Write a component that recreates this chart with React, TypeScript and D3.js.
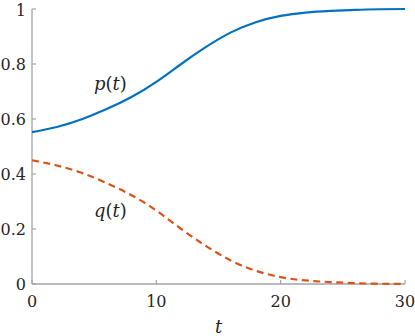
import React from 'react';
import * as d3 from 'd3';

// values (t every 2 units)
const tValues = [0, 2, 4, 6, 8, 10, 12, 14, 16, 18, 20, 22, 24, 26, 28, 30];
const pValues = [0.552, 0.571, 0.599, 0.636, 0.68, 0.735, 0.8, 0.862, 0.915, 0.952, 0.975, 0.987, 0.993, 0.997, 0.999, 1.0];
const qValues = [0.45, 0.431, 0.404, 0.367, 0.323, 0.267, 0.2, 0.138, 0.085, 0.048, 0.025, 0.013, 0.007, 0.003, 0.001, 0.0];
const xTicks = [0, 10, 20, 30];
const yTicks = [0, 0.2, 0.4, 0.6, 0.8, 1];

const W = 415;
const H = 336;
const margin = { left: 32, right: 10, top: 9, bottom: 52 };
const FONT = '"DejaVu Serif", "Liberation Serif", "Noto Serif", serif';
const AXIS = '#a3a3a3';
const TEXT = '#262626';

const App = () => {
  const x = d3.scaleLinear().domain([0, 30]).range([margin.left, W - margin.right]);
  const y = d3.scaleLinear().domain([0, 1]).range([H - margin.bottom, margin.top]);

  const line = (vals: number[]) =>
    d3.line<number>()
      .x((_, i) => x(tValues[i]))
      .y(d => y(d))
      .curve(d3.curveNatural)(vals) || '';

  const fmt = (v: number) => (v === 0 || v === 1 ? String(v) : d3.format('.1f')(v));
  const tick = { fontFamily: FONT, fontSize: 16, fill: TEXT } as React.CSSProperties;
  const lab = { fontFamily: FONT, fontSize: 18, fill: TEXT } as React.CSSProperties;

  return (
    <svg width={W} height={H} style={{ position: 'absolute', left: 0, top: 0, background: '#fff' }}>
      {/* axes */}
      <line x1={x(0)} x2={x(30)} y1={y(0)} y2={y(0)} stroke={AXIS} strokeWidth={1.3} />
      <line x1={x(0)} x2={x(0)} y1={y(0)} y2={y(1)} stroke={AXIS} strokeWidth={1.3} />
      {xTicks.map(t => (
        <g key={'x' + t}>
          <line x1={x(t)} x2={x(t)} y1={y(0)} y2={y(0) - 4} stroke={AXIS} strokeWidth={1.2} />
          <text x={x(t)} y={y(0) + 23} textAnchor="middle" style={tick}>{t}</text>
        </g>
      ))}
      {yTicks.map(v => (
        <g key={'y' + v}>
          <line x1={x(0)} x2={x(0) + 4} y1={y(v)} y2={y(v)} stroke={AXIS} strokeWidth={1.2} />
          <text x={x(0) - 6} y={y(v)} dy={v === 1 ? '0.42em' : '0.36em'} textAnchor="end" style={tick}>{fmt(v)}</text>
        </g>
      ))}

      {/* series */}
      <path d={line(pValues)} fill="none" stroke="#0072BD" strokeWidth={2.2} />
      <path d={line(qValues)} fill="none" stroke="#D95319" strokeWidth={2.2} strokeDasharray="7,4.5" />

      {/* labels */}
      <text x={x(6.3)} y={y(0.727)} dy="0.33em" textAnchor="middle" style={lab}>
        <tspan fontStyle="italic">p</tspan>(<tspan fontStyle="italic">t</tspan>)
      </text>
      <text x={x(6.3)} y={y(0.265)} dy="0.33em" textAnchor="middle" style={lab}>
        <tspan fontStyle="italic">q</tspan>(<tspan fontStyle="italic">t</tspan>)
      </text>
      <text x={x(15)} y={H - 3} textAnchor="middle" fontStyle="italic" style={lab}>t</text>
    </svg>
  );
};

export default App;
